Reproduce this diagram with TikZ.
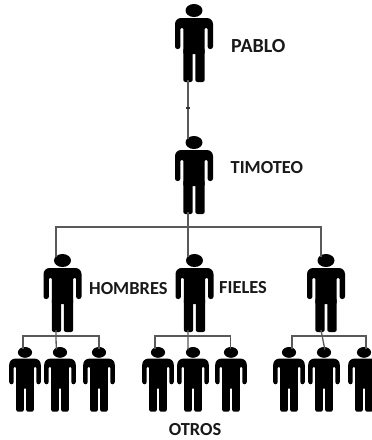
\documentclass[tikz,border=0pt]{standalone}
\usepackage{fontspec}
\setmainfont{Carlito}
\tikzset{
  link/.style={draw=black!65,line width=1.3pt},
  lbl/.style={font=\fontsize{18.4}{20}\selectfont\bfseries,text=black!90,inner sep=0pt}
}
\newcommand\person[5]{%
  \begin{scope}[shift={(#2,#3)},scale=#4]
    \fill (0,6.5) ellipse [x radius=8.5,y radius=6.5];
    \fill[rounded corners=2.4] (-19,45) [rounded corners=6] -- (-19,14) -- (19,14) [rounded corners=2.4] -- (19,45)
       -- (13.6,45) [rounded corners=1] -- (13.6,24) -- (10.7,24) -- (10.7,50) -- (-10.7,50) -- (-10.7,24) -- (-13.6,24) [rounded corners=2.4] -- (-13.6,45) -- cycle;
    \fill[rounded corners=2.2] (-10.7,44) rectangle (-1.3,78);
    \fill[rounded corners=2.2] (1.3,44) rectangle (10.7,78);
    \coordinate (#1-top) at (#5,3);
    \coordinate (#1-foot) at (#5,76);
  \end{scope}}
\begin{document}
\begin{tikzpicture}[x=1pt,y=-1pt]
\useasboundingbox (0,0) rectangle (372,440);
\coordinate (bar) at (188,227);
\coordinate (low) at (0,336);
\person{pablo}{194}{4}{1}{-6}
\person{timoteo}{194}{136}{1}{-6}
\person{h}{62.5}{254}{1}{-6.5}
\person{f}{194.5}{254}{1}{-6.5}
\person{r}{326}{254}{1}{-5}
\person{a1}{25}{347}{.83}{-2.5}
\person{a2}{60}{347}{.83}{-4.5}
\person{a3}{99}{347}{.83}{0}
\person{b1}{158}{347}{.83}{-3.5}
\person{b2}{193}{347}{.83}{-6}
\person{b3}{231}{347}{.83}{-1}
\person{c1}{289}{347}{.83}{3.5}
\person{c2}{324}{347}{.83}{1}
\person{c3}{364}{347}{.83}{2.5}
\coordinate (hbar) at (h-foot |- low);
\coordinate (fbar) at (f-foot |- low);
\coordinate (rbar) at (r-foot |- low);
\draw[link] (pablo-foot) -- (timoteo-top);
\fill[black!80] (186,107) rectangle (190,109);
\draw[link] (timoteo-foot) -- (bar);
\draw[link] (h-top) |- (bar) -| (r-top);
\draw[link] (bar) -- (f-top);
\draw[link] (a1-top) |- (hbar) -| (a3-top);
\draw[link] (h-foot) -- (hbar) -- (a2-top);
\draw[link] (b1-top) |- (fbar) -| (b3-top);
\draw[link] (f-foot) -- (fbar) -- (b2-top);
\draw[link] (c1-top) |- (rbar) -| (c3-top);
\draw[link] (r-foot) -- (c2-top);
\node[lbl,anchor=west,font=\fontsize{20}{22}\selectfont\bfseries] (pablolbl) at (231,46) {PABLO};
\node[lbl,anchor=west] (timlbl) at (230.5,168) {TIMOTEO};
\node[lbl,anchor=west] (homlbl) at (89,288.5) {HOMBRES};
\node[lbl,anchor=west] (fiellbl) at (219,288) {FIELES};
\node[lbl] (otroslbl) at (195,429.5) {OTROS};
\end{tikzpicture}
\end{document}
